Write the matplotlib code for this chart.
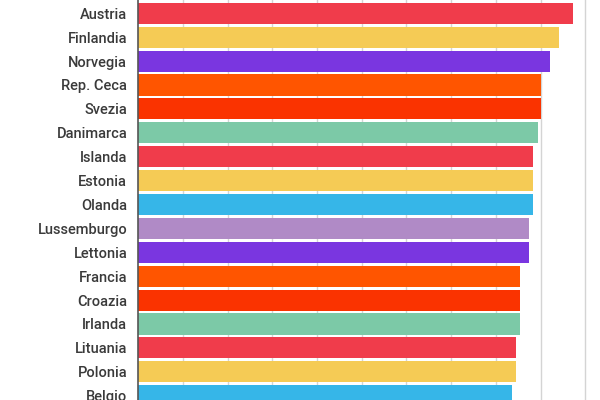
import matplotlib
matplotlib.use('Agg')
import matplotlib.pyplot as plt

paesi = ['Austria', 'Finlandia', 'Norvegia', 'Rep. Ceca', 'Svezia', 'Danimarca',
         'Islanda', 'Estonia', 'Olanda', 'Lussemburgo', 'Lettonia', 'Francia',
         'Croazia', 'Irlanda', 'Lituania', 'Polonia', 'Belgio']
valori = [97.2, 94.1, 92.1, 90.1, 90.1, 89.5,
          88.4, 88.4, 88.4, 87.5, 87.5, 85.4,
          85.5, 85.5, 84.4, 84.4, 83.5]
colori = ['#F03C4B', '#F5CB55', '#7A36E0', '#FF5500', '#FA3300', '#7CC9A7',
          '#F03C4B', '#F5CB55', '#36B6E8', '#B08AC6', '#7A36E0', '#FF5500',
          '#FA3300', '#7CC9A7', '#F03C4B', '#F5CB55', '#36B6E8']
griglia = [10, 20, 30, 40, 50, 60, 70, 80, 90, 100]

fig = plt.figure(figsize=(6, 4), dpi=100)
ax = fig.add_axes([0.2305, 0.0, 0.7695, 1.0])

pos = list(range(len(paesi)))
ax.barh(pos, valori, height=0.88, color=colori, zorder=2)

for g in griglia:
    ax.axvline(g, color='#d4d4d4', lw=1, zorder=1)

ax.set_xlim(0, 103.3)
ax.set_ylim(16.18, -0.556)
ax.set_yticks(pos)
ax.set_yticklabels(paesi, fontsize=10.5, color='#3a3a3a', family='Roboto',
                   fontweight='medium')
ax.tick_params(axis='y', length=0, pad=8)
ax.set_xticks([])
for s in ['top', 'right', 'bottom']:
    ax.spines[s].set_visible(False)
ax.spines['left'].set_color('#555555')
ax.spines['left'].set_linewidth(1.2)
ax.spines['left'].set_zorder(3)

fig.savefig('out.png', dpi=100)
